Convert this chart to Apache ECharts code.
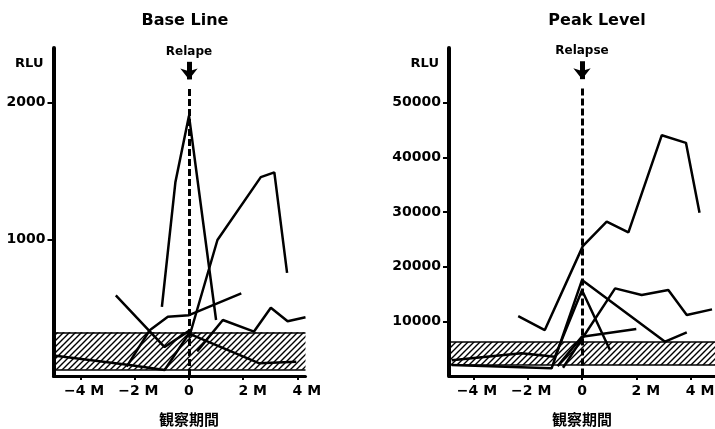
<!DOCTYPE html>
<html>
<head>
<meta charset="utf-8">
<script src="https://cdn.jsdelivr.net/npm/echarts@6/dist/echarts.min.js"></script>
<style>
  html, body { margin: 0; padding: 0; background: #fff; }
  #chart { width: 715px; height: 429px; }
</style>
</head>
<body>
<div id="chart"></div>
<script>
// months relative to relapse, and RLU values
const xTicks = [-4, -2, 0, 2, 4];
const baseTicks = [1000, 2000];
const peakTicks = [10000, 20000, 30000, 40000, 50000];

// Base Line panel, one array per patient: [month, RLU]
const baseA = [[-1.0, 505], [-0.5, 1420], [0, 1905], [1.0, 410]];
const baseB = [[0, 280], [1.05, 995], [2.65, 1455], [3.15, 1490], [3.62, 755]];
const baseC = [[-2.7, 590], [-0.9, 212], [0, 330]];
const baseD = [[-2.3, 68], [-1.45, 335], [-0.78, 433], [0, 445], [1.93, 604]];
const baseE = [[-5, 150], [-2.2, 80], [-0.9, 44], [0, 310], [2.6, 93], [3.96, 104]];
const baseG = [[0.3, 180], [1.25, 410], [2.4, 325], [3.02, 500], [3.64, 400], [4.3, 430]];
const baseBand = [45, 320];

// Peak Level panel
const peakA = [[-2.35, 10970], [-1.37, 8410], [0.03, 23760], [0.91, 28250], [1.71, 26270], [2.94, 44050], [3.83, 42650], [4.33, 29850]];
const peakB = [[-4.8, 2000], [-1.12, 1400], [0, 17550], [3.06, 6270], [3.86, 7990]];
const peakC = [[-0.7, 1500], [1.22, 16030], [2.2, 14810], [3.18, 15720], [3.86, 11150], [4.79, 12190]];
const peakD = [[-4.8, 2900], [-2.23, 4150], [-1.0, 3500], [0, 15700], [1.03, 4750]];
const peakE = [[-0.9, 1800], [0, 7200], [2.0, 8600]];
const peakBand = [2000, 6200];

const FONT = 'DejaVu Sans';

// hatch pattern for the normal range band
const hatch = document.createElement('canvas');
hatch.width = 6;
hatch.height = 6;
const hctx = hatch.getContext('2d');
hctx.strokeStyle = '#000';
hctx.lineWidth = 1.4;
hctx.beginPath();
hctx.moveTo(0, 6); hctx.lineTo(6, 0);
hctx.moveTo(-1, 1); hctx.lineTo(1, -1);
hctx.moveTo(5, 7); hctx.lineTo(7, 5);
hctx.stroke();

function xLabel(v) {
    if (v === 0) return '{z|0}';
    if (v < 0) return '{n|−' + Math.abs(v) + ' M}';
    return '{p|' + v + ' M}';
}

const labelRich = {
    z: { fontFamily: FONT, fontWeight: 'bold', fontSize: 14, color: '#000' },
    n: { fontFamily: FONT, fontWeight: 'bold', fontSize: 14, color: '#000', padding: [0, 0, 0, 7] },
    p: { fontFamily: FONT, fontWeight: 'bold', fontSize: 14, color: '#000', padding: [0, 0, 0, 19] }
};

function makeX(idx, min, max, nameShift) {
    return {
        type: 'value', gridIndex: idx, min: min, max: max,
        name: '観察期間', nameLocation: 'middle', nameGap: 35,
        nameTextStyle: { fontFamily: 'Noto Sans CJK JP', fontWeight: 'bold', fontSize: 15, lineHeight: 16, color: '#000', padding: [0, 0, 0, nameShift] },
        axisLine: { onZero: false, lineStyle: { color: '#000', width: 3 } },
        axisTick: { show: true, length: 4, customValues: xTicks, lineStyle: { color: '#000', width: 2 } },
        axisLabel: { customValues: xTicks, formatter: xLabel, rich: labelRich, margin: 8 },
        splitLine: { show: false }
    };
}

function makeY(idx, max, ticks) {
    return {
        type: 'value', gridIndex: idx, min: 0, max: max,
        name: 'RLU', nameLocation: 'end', nameGap: -16,
        nameTextStyle: { fontFamily: FONT, fontWeight: 'bold', fontSize: 13, color: '#000', align: 'right', verticalAlign: 'middle', padding: [0, 10, 0, 0] },
        axisLine: { onZero: false, lineStyle: { color: '#000', width: 4 } },
        axisTick: { show: true, length: 6, customValues: ticks, lineStyle: { color: '#000', width: 2 } },
        axisLabel: { customValues: ticks, formatter: v => String(v), margin: 8,
                     fontFamily: FONT, fontWeight: 'bold', fontSize: 14, color: '#000' },
        splitLine: { show: false }
    };
}

function marks(idx, band, dashTop, arrowTop, arrowEnd, text) {
    return {
        type: 'line', xAxisIndex: idx, yAxisIndex: idx, data: [],
        silent: true,
        markArea: {
            silent: true,
            itemStyle: { color: { image: hatch, repeat: 'repeat' } },
            data: [[{ yAxis: band[0] }, { yAxis: band[1] }]]
        },
        markLine: {
            silent: true,
            symbol: 'none',
            label: { show: false },
            lineStyle: { color: '#000', width: 1.5, type: 'solid' },
            data: [
                { yAxis: band[0] },
                { yAxis: band[1] },
                [
                    { coord: [0, dashTop], symbol: 'none' },
                    { coord: [0, 0], symbol: 'none', lineStyle: { color: '#000', width: 3, type: [7, 3] } }
                ],
                [
                    { coord: [0, arrowTop], symbol: 'none',
                      label: { show: true, position: 'start', distance: 4, formatter: text,
                               fontFamily: FONT, fontWeight: 'bold', fontSize: 12, color: '#000' } },
                    { coord: [0, arrowEnd], symbol: 'arrow', symbolSize: [13, 11],
                      lineStyle: { color: '#000', width: 5, type: 'solid' } }
                ]
            ]
        }
    };
}

function patient(idx, data) {
    return {
        type: 'line', xAxisIndex: idx, yAxisIndex: idx, data: data,
        symbol: 'none', silent: true,
        lineStyle: { color: '#000', width: 2.5 }
    };
}

const chart = echarts.init(document.getElementById('chart'));

const option = {
    animation: false,
    backgroundColor: '#fff',
    title: [
        { text: 'Base Line', left: 180, top: 8, textAlign: 'center',
          textStyle: { fontFamily: FONT, fontWeight: 'bold', fontSize: 16, color: '#000' } },
        { text: 'Peak Level', left: 592, top: 8, textAlign: 'center',
          textStyle: { fontFamily: FONT, fontWeight: 'bold', fontSize: 16, color: '#000' } }
    ],
    grid: [
        { left: 53.5, top: 48, width: 252, bottom: 53, outerBoundsMode: 'none' },
        { left: 449, top: 48, right: 0, bottom: 53, outerBoundsMode: 'none' }
    ],
    xAxis: [makeX(0, -5, 4.3, 19), makeX(1, -4.9, 4.9, 0)],
    yAxis: [makeY(0, 2400, baseTicks), makeY(1, 60000, peakTicks)],
    series: [
        marks(0, baseBand, 2100, 2299, 2170, 'Relape'),
        marks(1, peakBand, 52600, 57580, 54300, 'Relapse'),
        patient(0, baseA), patient(0, baseB), patient(0, baseC),
        patient(0, baseD), patient(0, baseE), patient(0, baseG),
        patient(1, peakA), patient(1, peakB), patient(1, peakC),
        patient(1, peakD), patient(1, peakE)
    ]
};

chart.setOption(option);
</script>
</body>
</html>
